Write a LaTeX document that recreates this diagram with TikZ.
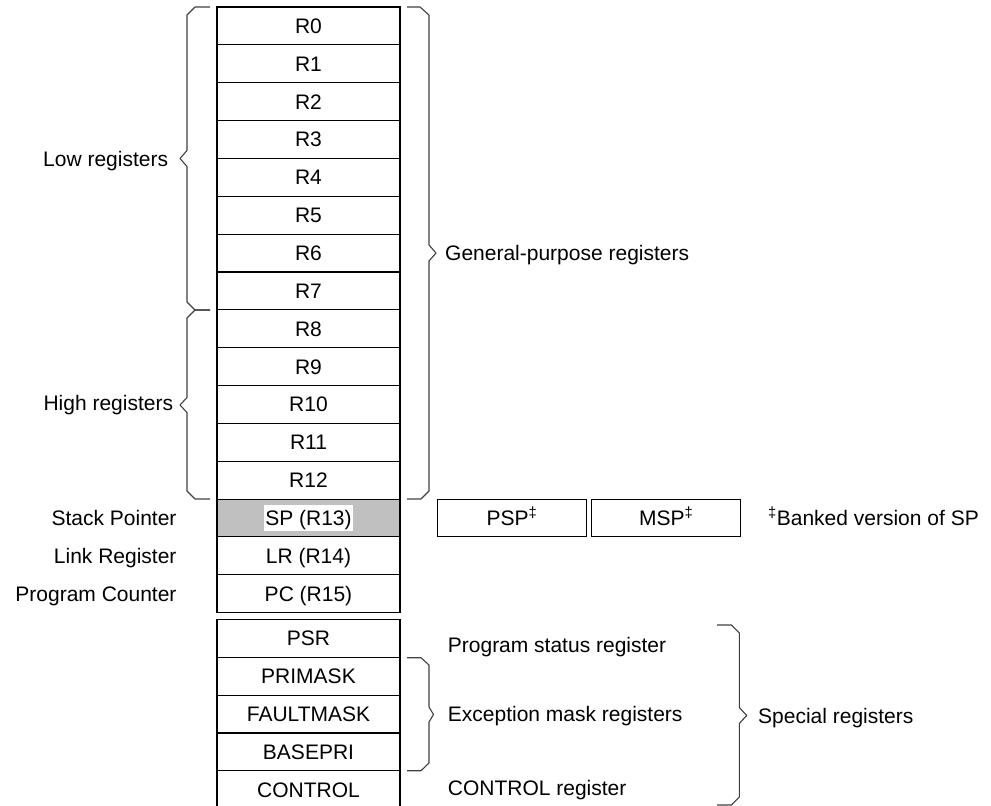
\documentclass[tikz,border=0pt]{standalone}
\usepackage{fontspec}
\setmainfont{Liberation Sans}
\begin{document}
\begin{tikzpicture}[x=1pt,y=-1pt,
  every node/.style={font=\fontsize{21}{25}\selectfont, inner sep=0pt},
  reg/.style={draw=black, line width=1.1pt, minimum width=183pt, minimum height=37.85pt,
              text height=15pt, text depth=0pt},
  sreg/.style={reg, minimum height=37.9pt},
  bank/.style={draw=black, line width=1.1pt, minimum width=149pt, minimum height=37.7pt,
              text height=15pt, text depth=0pt},
  lblL/.style={anchor=base east},
  lblR/.style={anchor=base west},
  brace/.style={draw=black!75, line width=1.1pt, line join=round}
]
\useasboundingbox (0,0) rectangle (991,806);
\clip (0,0) rectangle (991,806);

% general-purpose registers
\foreach \i in {0,...,12}{
  \node[reg] (r\i) at (308.5,{7+37.85*(\i+0.5)}) {R\i};
}
\node[reg, fill={rgb,255:red,192;green,192;blue,192}] (sp) at (308.5,{7+37.85*13.5})
  {\setlength\fboxsep{1pt}\colorbox{white}{\rule[-4.5pt]{0pt}{23.5pt}SP (R13)}};
\node[reg] (lr) at (308.5,{7+37.85*14.5}) {LR (R14)};
\node[reg] (pc) at (308.5,{7+37.85*15.5}) {PC (R15)};

% banked SP
\node[bank] (psp) at (512,518) {PSP\textsuperscript{‡}};
\node[bank] (msp) at (666.2,518) {MSP\textsuperscript{‡}};
\node[lblR] (note) at (768,525.5) {\textsuperscript{‡}Banked version of SP};

% special registers
\node[sreg] (psr) at (308.5,{619.3+37.9*0.5}) {PSR};
\node[sreg] (primask) at (308.5,{619.3+37.9*1.5}) {PRIMASK};
\node[sreg] (faultmask) at (308.5,{619.3+37.9*2.5}) {FAULTMASK};
\node[sreg] (basepri) at (308.5,{619.3+37.9*3.5}) {BASEPRI};
\node[sreg] (control) at (308.5,{619.3+37.9*4.5}) {CONTROL};

% left labels
\node[lblL] (low) at (168.3,166) {Low registers};
\node[lblL] (high) at (173.3,410.5) {High registers};
\node[lblL] (spl) at (176.7,525.5) {Stack Pointer};
\node[lblL] (lrl) at (176.7,563.3) {Link Register};
\node[lblL] (pcl) at (176.7,601.2) {Program Counter};

% right labels
\node[lblR] (gpr) at (445,260.5) {General-purpose registers};
\node[lblR] (psrl) at (447.7,652.3) {Program status register};
\node[lblR] (excl) at (447.7,721.7) {Exception mask registers};
\node[lblR] (ctrll) at (447.7,795.7) {CONTROL register};
\node[lblR] (spec) at (758,723) {Special registers};

% braces
\draw[brace] (210,7) -- (195,7) -- (187,15) -- (187,150.5) -- (180,158.5) -- (187,166.5)
  -- (187,302) -- (195,310) -- (210,310);
\draw[brace] (210,310) -- (195,310) -- (187,318) -- (187,397.5) -- (180,405) -- (187,412.5)
  -- (187,491) -- (195,499) -- (210,499);
\draw[brace] (407,7) -- (420,7) -- (429,15) -- (429,245) -- (436,253) -- (429,261)
  -- (429,491) -- (421,499) -- (407,499);
\draw[brace] (407,657.7) -- (421,657.7) -- (429,665) -- (429,707) -- (433.5,714.5) -- (429,722)
  -- (429,763) -- (421,770.7) -- (407,770.7);
\draw[brace] (717,625) -- (731.5,625) -- (739.3,633) -- (739.3,707.5) -- (746.7,715.5) -- (739.3,723.5)
  -- (739.3,797) -- (731.5,805) -- (717,805);
\end{tikzpicture}
\end{document}
